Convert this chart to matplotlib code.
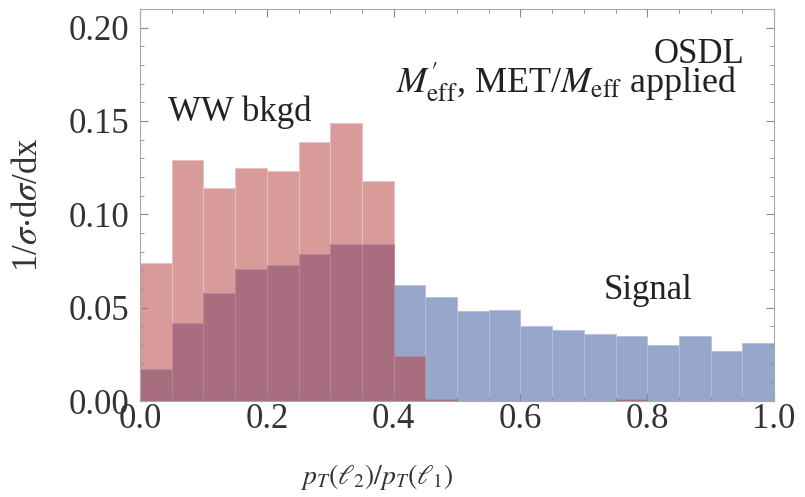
import numpy as np
import matplotlib.pyplot as plt
from matplotlib.ticker import MultipleLocator

# bin edges 0..1 in steps of 0.05
edges = np.linspace(0, 1, 21)

ww_bkgd = [0.074, 0.129, 0.114, 0.125, 0.123, 0.139, 0.149, 0.118,
           0.024, 0.001, 0.0, 0.0, 0.0, 0.0, 0.0, 0.001, 0.0, 0.0, 0.0, 0.0]
signal = [0.017, 0.042, 0.058, 0.071, 0.073, 0.079, 0.084, 0.084,
          0.062, 0.056, 0.048, 0.049, 0.040, 0.038, 0.036, 0.035,
          0.030, 0.035, 0.027, 0.031]

plt.rcParams['font.family'] = ['Liberation Serif', 'DejaVu Serif']
plt.rcParams['mathtext.fontset'] = 'stix'

fig = plt.figure(figsize=(8.05, 4.97), dpi=100)
ax = fig.add_axes([0.174, 0.193, 0.7875, 0.789])

left = edges[:-1]
w = np.diff(edges)
ww = np.array(ww_bkgd)
sig = np.array(signal)
both = np.minimum(ww, sig)

red = "#d99a9a"
blue = "#97a6cb"
purple = "#a86e80"

ax.bar(left, ww, width=w, align="edge", color=red, edgecolor="#e8c4c4", linewidth=0.6)
ax.bar(left, sig, width=w, align="edge", color=blue, edgecolor="#b3bfdb", linewidth=0.6)
ax.bar(left, both, width=w, align="edge", color=purple, edgecolor="#b88a98", linewidth=0.6)

ax.set_xlim(0, 1)
ax.set_ylim(0, 0.21)

ax.xaxis.set_major_locator(MultipleLocator(0.2))
ax.xaxis.set_minor_locator(MultipleLocator(0.05))
ax.yaxis.set_major_locator(MultipleLocator(0.05))
ax.yaxis.set_minor_locator(MultipleLocator(0.01))
ax.xaxis.set_major_formatter(lambda v, p: f"{v:.1f}")
ax.yaxis.set_major_formatter(lambda v, p: f"{v:.2f}")

ax.tick_params(which="both", direction="in", top=True, right=True, colors="#888888",
               labelcolor="#333333", labelsize=25)
ax.tick_params(which="major", length=6, width=0.8)
ax.tick_params(which="minor", length=3, width=0.6)
ax.tick_params(axis="x", which="major", pad=1.5)
ax.tick_params(axis="y", which="major", pad=8)
for s in ax.spines.values():
    s.set_color("#aaaaaa")
    s.set_linewidth(0.8)

ax.set_ylabel(r"1/$\sigma$$\cdot$d$\sigma$/dx", fontsize=25, color="#333333")
ax.yaxis.set_label_coords(-0.150, 0.5)
fig.text(0.468, 0.026, r"$p_T(\ell_2)/p_T(\ell_1)$", fontsize=20, ha="center",
         va="baseline", color="#333333")

ax.text(0.954, 0.181, "OSDL", fontsize=25, ha="right", va="baseline", color="#222222")
ax.text(0.9415, 0.1655, r"$M^{\prime}_{\rm eff}$, MET/$M_{\rm eff}$ applied", fontsize=26,
        ha="right", va="baseline", color="#222222")
ax.text(0.044, 0.1498, "WW bkgd", fontsize=25, ha="left", va="baseline", color="#222222")
ax.text(0.731, 0.0548, "Signal", fontsize=25, ha="left", va="baseline", color="#222222")

fig.savefig("out.png", dpi=100)
